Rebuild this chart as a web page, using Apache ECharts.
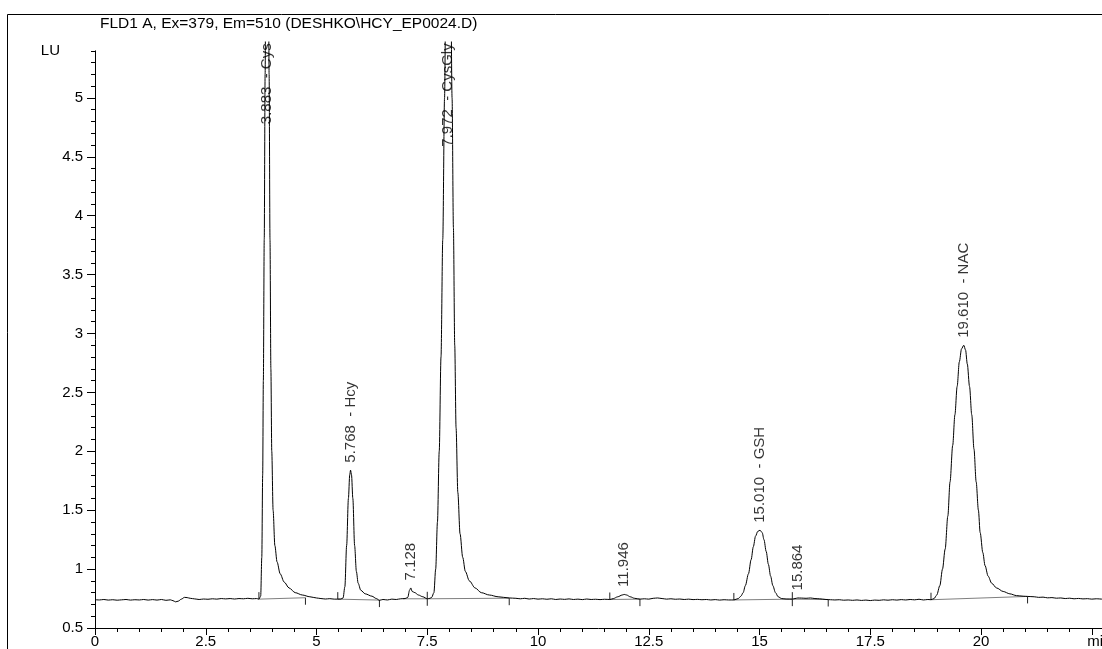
<!DOCTYPE html>
<html><head><meta charset="utf-8">
<script src="https://cdn.jsdelivr.net/npm/echarts@6/dist/echarts.min.js"></script>
<style>html,body{margin:0;padding:0;background:#fff}#c{width:1102px;height:649px}</style>
</head><body><div id="c"></div><script>
const FONT = 'Arial, "Liberation Sans", sans-serif';
const titleText = 'FLD1 A, Ex=379, Em=510 (DESHKO\\HCY_EP0024.D)';
const yUnit = 'LU';
const xUnit = 'min';
const xMin = 0, xMax = 22.73, yMin = 0.5, yMax = 5.4, yTraceMax = 5.475;
const xMinorStep = 0.5, xMajorStep = 2.5, yMinorStep = 0.1, yMajorStep = 0.5;

// detector trace [time (min), signal (LU)]
const trace = [
[0.00,0.740],[0.10,0.738],[0.20,0.742],[0.30,0.737],[0.40,0.740],[0.50,0.736],[0.60,0.739],[0.70,0.742],[0.80,0.737],[0.90,0.740],
[1.00,0.738],[1.10,0.742],[1.20,0.737],[1.30,0.741],[1.40,0.737],[1.50,0.742],[1.60,0.735],[1.70,0.739],[1.76,0.732],[1.82,0.722],
[1.88,0.728],[1.95,0.745],[2.02,0.760],[2.08,0.758],[2.15,0.752],[2.25,0.747],[2.35,0.742],[2.45,0.746],[2.55,0.744],[2.65,0.748],
[2.75,0.745],[2.85,0.750],[2.95,0.747],[3.05,0.750],[3.15,0.746],[3.25,0.750],[3.35,0.748],[3.45,0.752],[3.55,0.748],[3.65,0.750],
[3.70,0.745],[3.74,0.77],[3.765,1.1],[3.785,1.8],[3.80,2.6],[3.82,3.8],[3.84,5.2],[3.86,6.5],[3.883,7.0],[3.91,6.5],[3.93,5.2],
[3.95,3.8],[3.97,2.7],[3.99,2.0],[4.02,1.5],[4.06,1.2],[4.11,1.06],[4.18,0.96],[4.27,0.89],[4.38,0.84],[4.52,0.80],[4.68,0.78],
[4.85,0.765],[5.00,0.755],[5.10,0.750],[5.20,0.746],[5.30,0.749],[5.40,0.745],
[5.48,0.745],[5.55,0.746],[5.60,0.755],[5.64,0.85],[5.68,1.2],[5.72,1.6],[5.75,1.8],[5.768,1.84],[5.79,1.8],[5.82,1.6],[5.86,1.2],
[5.90,0.98],[5.94,0.88],[6.00,0.82],[6.10,0.79],[6.25,0.77],[6.35,0.75],[6.42,0.735],[6.50,0.742],[6.60,0.738],[6.70,0.745],
[6.80,0.742],[6.90,0.748],[7.00,0.750],[7.06,0.76],[7.10,0.82],[7.128,0.84],[7.16,0.81],[7.22,0.80],[7.30,0.78],[7.40,0.765],
[7.50,0.748],[7.56,0.752],[7.60,0.76],[7.65,0.8],[7.69,1.0],[7.73,1.4],[7.77,2.0],[7.81,2.8],[7.85,3.8],[7.89,5.0],[7.93,6.5],
[7.972,7.5],[8.02,6.5],[8.06,5.0],[8.09,3.9],[8.12,2.9],[8.15,2.2],[8.19,1.65],[8.24,1.3],[8.30,1.1],[8.36,0.98],[8.45,0.9],
[8.58,0.84],[8.72,0.80],[8.90,0.78],[9.10,0.765],[9.35,0.755],[9.50,0.752],[9.60,0.748],[9.70,0.752],[9.80,0.746],[9.90,0.750],
[10.00,0.745],[10.10,0.748],[10.20,0.744],[10.30,0.748],[10.40,0.742],[10.50,0.746],[10.60,0.743],[10.70,0.747],[10.80,0.742],
[10.90,0.745],[11.00,0.741],[11.10,0.746],[11.20,0.742],[11.30,0.744],[11.40,0.741],[11.50,0.744],[11.62,0.742],[11.70,0.750],
[11.80,0.765],[11.90,0.780],[11.946,0.785],[12.00,0.780],[12.08,0.765],[12.18,0.752],[12.30,0.745],[12.40,0.748],[12.50,0.745],
[12.60,0.752],[12.70,0.755],[12.80,0.750],[12.90,0.745],[13.00,0.748],[13.10,0.744],[13.20,0.746],[13.30,0.742],[13.40,0.745],
[13.50,0.741],[13.60,0.743],[13.70,0.740],[13.80,0.742],[13.90,0.738],[14.00,0.741],[14.10,0.737],[14.20,0.740],[14.30,0.738],
[14.42,0.738],[14.52,0.75],[14.58,0.77],[14.63,0.80],[14.68,0.86],[14.75,0.96],[14.81,1.08],[14.86,1.19],[14.91,1.28],[14.96,1.32],
[15.01,1.33],[15.06,1.31],[15.10,1.25],[15.15,1.15],[15.20,1.04],[15.25,0.94],[15.30,0.86],[15.36,0.80],[15.42,0.765],[15.50,0.750],
[15.60,0.746],[15.74,0.745],[15.80,0.750],[15.864,0.755],[15.95,0.754],[16.05,0.752],[16.15,0.755],[16.25,0.750],[16.35,0.748],
[16.50,0.742],[16.60,0.740],[16.70,0.738],[16.80,0.740],[16.90,0.736],[17.00,0.738],[17.10,0.735],[17.20,0.738],[17.30,0.734],
[17.40,0.737],[17.50,0.733],[17.60,0.737],[17.70,0.735],[17.80,0.739],[17.90,0.736],[18.00,0.740],[18.10,0.737],[18.20,0.741],
[18.30,0.738],[18.40,0.742],[18.50,0.739],[18.60,0.744],[18.70,0.738],[18.80,0.742],[18.87,0.740],[18.94,0.75],[19.00,0.78],
[19.07,0.86],[19.13,1.0],[19.19,1.17],[19.25,1.45],[19.30,1.74],[19.36,2.05],[19.41,2.31],[19.46,2.55],[19.51,2.76],[19.56,2.87],
[19.61,2.90],[19.65,2.86],[19.69,2.74],[19.74,2.55],[19.79,2.31],[19.84,2.02],[19.89,1.74],[19.94,1.50],[19.98,1.31],[20.04,1.14],
[20.09,1.03],[20.16,0.94],[20.24,0.88],[20.35,0.84],[20.50,0.81],[20.65,0.79],[20.80,0.775],[20.95,0.770],[21.05,0.768],
[21.20,0.765],[21.30,0.760],[21.40,0.762],[21.50,0.756],[21.60,0.758],[21.70,0.753],[21.80,0.755],[21.90,0.750],[22.00,0.753],
[22.10,0.748],[22.20,0.751],[22.30,0.747],[22.40,0.749],[22.50,0.745],[22.60,0.748],[22.73,0.745]
];

// integration baselines [startTime, startLU, endTime, endLU]
const baselineSegs = [
[3.70,0.745,4.75,0.757],
[5.48,0.745,6.42,0.737],
[6.95,0.748,7.50,0.748],
[7.50,0.748,9.35,0.753],
[11.62,0.742,12.30,0.745],
[14.42,0.738,15.74,0.745],
[15.74,0.745,16.55,0.742],
[18.87,0.740,21.05,0.768]
];
// event marks at segment start / end: 1 up, -1 down, 2 both, 0 none
const startMarks = [1, 1, 0, 0, 1, 1, 0, 1];
const endMarks   = [-1, -1, 2, -1, -1, 2, -1, -1];

// peaks
const peakTimes = [3.883, 5.768, 7.128, 7.972, 11.946, 15.010, 15.864, 19.610];
const peakNames = ['Cys', 'Hcy', '', 'CysGly', '', 'GSH', '', 'NAC'];
const peakTops  = [null, 1.84, 0.84, null, 0.785, 1.33, 0.755, 2.90]; // null = off scale

const chart = echarts.init(document.getElementById('c'), null, {renderer: 'canvas'});
const G = {left: 95, right: 0, bottom: 21, containLabel: false, outerBoundsMode: 'none'};
const txt = {fontFamily: FONT, fontSize: 15, color: '#000'};
const black = {color: '#000', width: 1};

const labelData = peakTimes.map((t, i) => {
  const off = peakTops[i] === null;
  return {
    value: [t, off ? yMax : peakTops[i]],
    label: off ? {align: 'right'} : {align: 'left'}
  };
});

const option = {
  animation: false,
  backgroundColor: '#fff',
  title: {text: titleText, left: 100, top: 16, padding: 0,
    textStyle: {fontFamily: FONT, fontSize: 15.5, fontWeight: 'normal', color: '#000'}},
  graphic: [{type: 'rect', silent: true, shape: {x: 7.5, y: 14.5, width: 1200, height: 1000},
    style: {fill: 'none', stroke: '#000', lineWidth: 1}}],
  grid: [Object.assign({top: 50.8}, G), Object.assign({top: 41.9}, G)],
  xAxis: [
    {gridIndex: 0, type: 'value', position: 'bottom', min: xMin, max: xMax, interval: xMinorStep,
      axisLine: {show: true, onZero: false, lineStyle: black}, axisTick: {show: true, length: 4, lineStyle: black},
      axisLabel: {show: false}, splitLine: {show: false}},
    {gridIndex: 0, type: 'value', position: 'bottom', min: xMin, max: xMax, interval: xMajorStep,
      axisLine: {show: false, onZero: false}, axisTick: {show: true, length: 7, lineStyle: black},
      axisLabel: Object.assign({show: true, margin: 6, showMaxLabel: false, hideOverlap: false,
        formatter: v => Math.abs(v - 22.5) < 1e-6 ? '{m|' + xUnit + '}' : String(v),
        rich: {m: Object.assign({padding: [0, 0, 0, 15]}, txt)}}, txt),
      splitLine: {show: false}},
    {gridIndex: 1, type: 'value', min: xMin, max: xMax, show: false}
  ],
  yAxis: [
    {gridIndex: 0, type: 'value', position: 'left', min: yMin, max: yMax, interval: yMinorStep,
      axisLine: {show: true, onZero: false, lineStyle: black}, axisTick: {show: true, length: 4, lineStyle: black},
      axisLabel: {show: false}, splitLine: {show: false}},
    {gridIndex: 0, type: 'value', position: 'left', min: yMin, max: yMax, interval: yMajorStep,
      name: yUnit, nameLocation: 'end', nameGap: 0,
      nameTextStyle: Object.assign({align: 'right', verticalAlign: 'middle', padding: [0, 35, 0, 0]}, txt),
      axisLine: {show: false, onZero: false}, axisTick: {show: true, length: 8, lineStyle: black},
      axisLabel: Object.assign({show: true, margin: 12, showMaxLabel: false}, txt),
      splitLine: {show: false}},
    {gridIndex: 1, type: 'value', min: yMin, max: yTraceMax, show: false}
  ],
  series: [
    {
      type: 'custom', xAxisIndex: 0, yAxisIndex: 0, z: 1, silent: true,
      data: baselineSegs.map((s, i) => [s[0], s[1], s[2], s[3], startMarks[i], endMarks[i]]),
      renderItem: function (params, api) {
        const a = api.coord([api.value(0), api.value(1)]);
        const b = api.coord([api.value(2), api.value(3)]);
        const L = 7;
        const children = [{type: 'line', shape: {x1: a[0], y1: a[1], x2: b[0], y2: b[1]},
          style: {stroke: '#7f7f7f', lineWidth: 1}}];
        const mark = (p, d) => {
          if (d === 0) return;
          const y1 = d === -1 ? p[1] : p[1] - L;
          const y2 = d === 1 ? p[1] : p[1] + L;
          children.push({type: 'line', shape: {x1: p[0], y1: y1, x2: p[0], y2: y2},
            style: {stroke: '#222', lineWidth: 1}});
        };
        mark(a, api.value(4));
        mark(b, api.value(5));
        return {type: 'group', children: children};
      }
    },
    {
      type: 'line', xAxisIndex: 2, yAxisIndex: 2, z: 3, data: trace,
      showSymbol: false, symbol: 'none', smooth: 0.3, smoothMonotone: 'x',
      lineStyle: {color: '#000', width: 1}, silent: true
    },
    {
      type: 'scatter', xAxisIndex: 0, yAxisIndex: 0, z: 4, clip: false, silent: true,
      symbol: 'circle', symbolSize: 1, itemStyle: {color: 'rgba(0,0,0,0)'},
      data: labelData,
      label: Object.assign({show: true, position: 'top', distance: 7, rotate: 90, verticalAlign: 'middle',
        formatter: p => peakTimes[p.dataIndex].toFixed(3) + (peakNames[p.dataIndex] ? '  - ' + peakNames[p.dataIndex] : '')}, txt)
    }
  ]
};
chart.setOption(option);
</script></body></html>
